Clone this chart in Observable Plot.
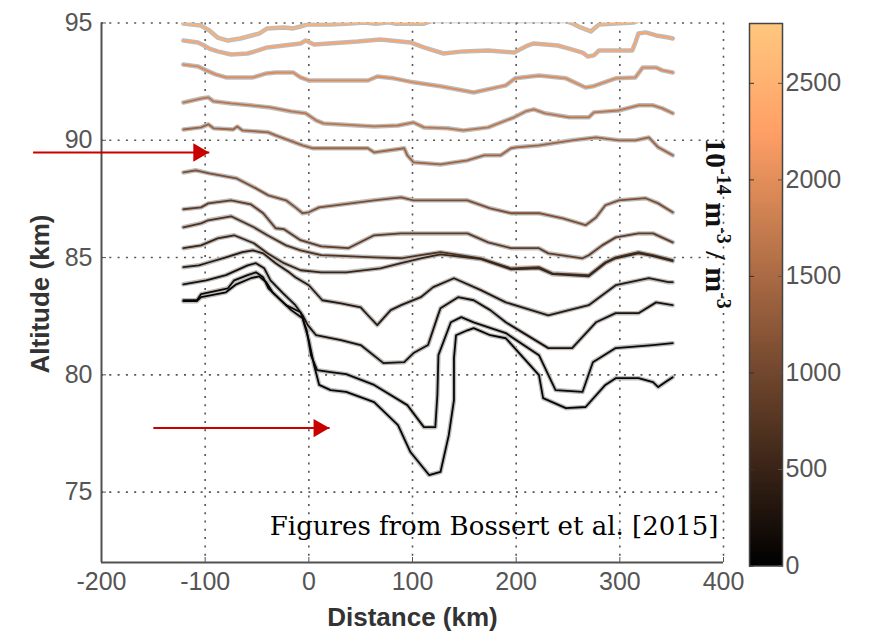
<!DOCTYPE html>
<html><head><meta charset="utf-8">
<script src="https://cdn.jsdelivr.net/npm/d3@7"></script>
<script src="https://cdn.jsdelivr.net/npm/@observablehq/plot@0.6"></script>
<style>
html,body{margin:0;padding:0;background:#fff;}
#wrap{position:relative;width:869px;height:636px;overflow:hidden;background:#fff;}
#wrap svg{position:absolute;}
</style></head><body><div id="wrap"></div>
<script>
// ---------- data ----------
const xTicks = [-200, -100, 0, 100, 200, 300, 400];
const yTicks = [75, 80, 85, 90, 95];
const colorTicks = [0, 500, 1000, 1500, 2000, 2500];
const colorMax = 2810;
const contourLevels = [2500, 2300, 1950, 1650, 1400, 1100, 850, 700, 520, 350, 230, 120, 60];

const contour1 = [[-121,94.98],[-104,94.89],[-96,94.68],[-88,94.38],[-78,94.25],[-66,94.34],[-48,94.55],[-40,94.77],[-24,94.81],[-15,94.77],[-8,94.85],[-1,94.94],[21,94.94],[40,94.98],[53,95.02],[65,94.97],[77,95.03],[84,94.97],[111,94.97],[118,95.08],[248,95.08],[255,94.97],[262,94.81],[272,94.64],[280,94.94],[313,95.02],[325,95.2],[351,95.2]];
const contour2 = [[-121,94.25],[-107,94.17],[-101,94.04],[-96,93.91],[-88,93.79],[-75,93.66],[-59,93.70],[-49,93.83],[-40,93.96],[-24,94.04],[-8,94.13],[-3,94.25],[5,94.08],[47,94.21],[69,94.30],[98,94.17],[111,93.96],[130,93.70],[149,93.79],[173,93.83],[198,93.74],[211,94.04],[217,94.13],[240,94.04],[251,93.91],[264,93.74],[269,93.57],[275,93.62],[280,93.83],[312,93.83],[315,94.17],[318,94.55],[325,94.60],[335,94.47],[347,94.38],[351,94.34]];
const contour3 = [[-121,93.23],[-107,93.15],[-99,92.98],[-90,92.81],[-80,92.68],[-54,92.68],[-41,92.85],[-32,92.89],[-15,92.89],[-8,92.68],[0,92.55],[57,92.55],[66,92.72],[82,92.64],[101,92.47],[127,92.30],[159,92.04],[190,92.34],[199,92.64],[222,92.76],[248,92.64],[267,92.25],[274,92.30],[296,92.64],[315,92.68],[322,93.10],[335,93.10],[341,92.98],[351,92.89]];
const contour4 = [[-121,91.61],[-104,91.78],[-97,91.83],[-92,91.66],[-75,91.57],[-56,91.49],[-37,91.40],[-17,91.23],[-3,91.15],[7,90.85],[14,90.72],[63,90.59],[86,90.63],[101,90.76],[111,90.55],[134,90.51],[149,90.42],[173,90.55],[198,90.98],[209,91.23],[217,91.32],[228,91.15],[251,90.98],[270,90.98],[275,91.19],[299,91.27],[318,91.49],[332,91.49],[341,91.36],[351,91.15]];
const contour5 = [[-121,90.46],[-104,90.55],[-97,90.68],[-92,90.51],[-73,90.46],[-69,90.59],[-64,90.42],[-39,90.34],[-32,90.21],[-19,90.00],[-6,89.78],[4,89.66],[57,89.66],[63,89.48],[92,89.66],[95,89.36],[101,89.06],[127,88.97],[153,89.14],[169,89.36],[185,89.36],[195,89.66],[200,89.70],[222,89.78],[254,90.00],[277,90.12],[299,90.00],[315,90.00],[328,90.12],[337,89.70],[351,89.36]];
const contour6 = [[-121,88.63],[-109,88.72],[-96,88.59],[-70,88.38],[-51,87.95],[-39,87.65],[-22,87.44],[-13,87.14],[-6,86.89],[0,86.93],[10,87.14],[33,87.27],[63,87.44],[89,87.57],[101,87.44],[153,87.44],[175,87.10],[195,86.89],[222,86.89],[245,86.67],[267,86.38],[277,86.71],[286,87.23],[299,87.44],[325,87.53],[337,87.31],[351,86.93]];
const contour7 = [[-121,87.06],[-104,87.14],[-97,87.31],[-75,87.44],[-56,87.27],[-44,86.89],[-32,86.25],[-24,86.21],[-8,85.74],[12,85.48],[38,85.40],[63,85.95],[89,86.03],[153,86.03],[173,85.65],[195,85.40],[222,85.40],[231,85.18],[264,84.97],[270,85.10],[283,85.52],[296,85.86],[318,86.03],[332,86.03],[351,85.65]];
const contour8 = [[-121,86.29],[-104,86.46],[-97,86.59],[-75,86.76],[-53,86.29],[-40,85.95],[-22,85.52],[-8,85.31],[12,85.10],[36,85.06],[63,85.01],[89,84.97],[108,85.10],[127,85.23],[166,84.97],[195,84.54],[222,84.59],[235,84.33],[270,84.25],[286,84.80],[296,85.01],[318,85.23],[332,85.10],[351,84.89]];
const contour9 = [[-121,85.40],[-104,85.52],[-88,85.82],[-72,85.95],[-53,85.61],[-40,85.18],[-24,84.76],[-8,84.46],[12,84.37],[36,84.37],[69,84.54],[89,84.76],[108,84.97],[127,85.14],[166,84.93],[195,84.50],[222,84.54],[235,84.29],[270,84.20],[286,84.76],[296,84.97],[318,85.18],[332,85.06],[351,84.85]];
const contour10 = [[-121,84.59],[-106,84.67],[-96,84.80],[-80,85.01],[-64,85.23],[-54,85.31],[-44,85.18],[-32,84.76],[-19,84.37],[-13,84.16],[0,83.82],[13,83.18],[31,83.05],[50,82.88],[57,82.54],[66,82.12],[79,82.76],[89,82.97],[108,83.31],[120,83.74],[140,84.12],[166,83.61],[190,83.09],[231,82.54],[270,82.97],[296,83.82],[328,84.12],[347,83.95],[351,83.95]];
const contour11 = [[-121,83.86],[-99,84.03],[-80,84.25],[-59,84.67],[-51,84.76],[-43,84.54],[-37,84.03],[-25,83.48],[-13,82.97],[-6,82.54],[-1,82.12],[7,81.69],[31,81.48],[50,81.27],[72,80.50],[92,80.54],[101,80.93],[115,81.27],[124,82.46],[127,82.84],[144,83.31],[159,83.18],[175,82.76],[190,82.24],[231,81.14],[254,81.14],[277,82.24],[296,82.63],[318,82.63],[335,83.09],[351,82.97]];
const contour12 = [[-121,83.18],[-108,83.18],[-104,83.44],[-78,83.69],[-72,84.03],[-59,84.25],[-51,84.37],[-44,84.16],[-39,83.69],[-22,82.97],[-8,82.67],[-2,81.90],[2,80.84],[8,80.20],[21,80.12],[36,80.03],[63,79.57],[95,78.71],[111,77.77],[122,77.77],[124,79.14],[125,80.84],[137,82.24],[147,82.46],[159,82.24],[190,81.78],[222,80.84],[238,79.35],[264,79.27],[274,80.54],[296,81.14],[332,81.27],[351,81.35]];
const contour13 = [[-121,83.14],[-108,83.14],[-104,83.31],[-80,83.52],[-70,83.86],[-56,84.12],[-48,84.20],[-41,83.95],[-35,83.52],[-17,82.76],[-6,82.41],[0,81.48],[5,80.42],[10,79.57],[21,79.35],[36,79.27],[63,78.84],[86,77.86],[98,76.71],[116,75.73],[127,75.86],[135,77.43],[140,78.92],[140,80.71],[142,81.69],[153,81.90],[159,81.99],[175,81.69],[190,81.56],[222,79.99],[226,79.01],[248,78.58],[267,78.63],[286,79.57],[296,79.86],[318,79.86],[332,79.69],[337,79.48],[344,79.69],[351,79.90]];

const contours = [contour1, contour2, contour3, contour4, contour5, contour6, contour7, contour8, contour9, contour10, contour11, contour12, contour13];

// annotation arrows (data coordinates: distance km, altitude km)
const arrowStartKm = [-266, -150];
const arrowTipKm = [-96, 20];
const arrowAltKm = [89.48, 77.73];

const captionText = "Figures from Bossert et al. [2015]";
const xLabel = "Distance (km)";
const yLabel = "Altitude (km)";

// ---------- build ----------
const copper = t => {
  const r = Math.min(1, 1.25 * t), g = 0.7812 * t, b = 0.4975 * t;
  return `rgb(${Math.round(r*255)},${Math.round(g*255)},${Math.round(b*255)})`;
};
const colorScale = {type: "linear", domain: [0, colorMax], interpolate: copper};
const plain = d => String(d);

const rows = contours.flatMap((pts, i) => pts.map(([dist, alt]) => ({id: i, level: contourLevels[i], dist, alt})));
const arrows = arrowStartKm.map((s, i) => ({x1: s, x2: arrowTipKm[i], y: arrowAltKm[i]}));

const axisColor = "#505050";
const labelColor = "#555";
const sans = "'Liberation Sans', Arial, Helvetica, sans-serif";

const chart = Plot.plot({
  width: 869, height: 636,
  marginLeft: 101, marginRight: 146, marginTop: 22.5, marginBottom: 74,
  x: {domain: [-200, 400]},
  y: {domain: [72, 95]},
  color: colorScale,
  style: {fontFamily: sans, background: "transparent", overflow: "visible"},
  marks: [
    Plot.gridX(xTicks.filter(d => d > -200), {stroke: "#555", strokeOpacity: 1, strokeWidth: 1.6, strokeDasharray: "2,6.3"}),
    Plot.gridY(yTicks, {stroke: "#555", strokeOpacity: 1, strokeWidth: 1.6, strokeDasharray: "2,6.3"}),
    Plot.line(rows, {x: "dist", y: "alt", z: "id", stroke: "#bcbcbc", strokeWidth: 4.5, clip: true, strokeLinejoin: "round"}),
    Plot.line(rows, {x: "dist", y: "alt", z: "id", stroke: "level", strokeWidth: 1.8, clip: true, strokeLinejoin: "round"}),
    Plot.ruleX([-200], {stroke: axisColor, strokeWidth: 2}),
    Plot.ruleY([72], {stroke: axisColor, strokeWidth: 2}),
    Plot.axisX(xTicks, {tickSize: -5, tickPadding: 15, fontSize: 25, color: labelColor, label: null, tickFormat: plain}),
    Plot.axisY(yTicks, {tickSize: -5, tickPadding: 14, fontSize: 25, color: labelColor, label: null, tickFormat: plain}),
    Plot.text([xLabel], {frameAnchor: "bottom", dy: 55, lineAnchor: "middle", fontSize: 26, fontWeight: "bold", fill: "#333"}),
    Plot.text([captionText], {frameAnchor: "bottom-right", dx: -5, dy: -36, textAnchor: "end", lineAnchor: "middle", fontSize: 26, fontFamily: "'DejaVu Serif', 'Liberation Serif', serif", fill: "#000"}),
    Plot.link(arrows, {x1: "x1", x2: "x2", y1: "y", y2: "y", stroke: "#c80000", strokeWidth: 2}),
    Plot.dot(arrows, {x: "x2", y: "y", symbol: "triangle", r: 6.8, fill: "#c80000", stroke: null, rotate: 90, dx: -10.7})
  ]
});
chart.style.left = "0px";
chart.style.top = "0px";

// y-axis title, placed explicitly (rotated)
d3.select(chart).append("text")
  .attr("transform", "translate(49,294) rotate(-90)")
  .attr("text-anchor", "middle")
  .attr("font-family", sans)
  .attr("font-weight", "bold")
  .attr("font-size", 26)
  .attr("fill", "#333")
  .text(yLabel);

// colour-bar label (rotated, with superscripts)
const lab = d3.select(chart).append("text")
  .attr("transform", "translate(706,138) rotate(90)")
  .attr("text-anchor", "start")
  .attr("font-family", "'Liberation Serif', 'DejaVu Serif', serif")
  .attr("font-weight", "bold")
  .attr("font-size", 30)
  .attr("fill", "#111");
lab.append("tspan").text("10");
lab.append("tspan").attr("font-size", 20).attr("dy", -11).text("-14");
lab.append("tspan").attr("dy", 11).text(" m");
lab.append("tspan").attr("font-size", 20).attr("dy", -11).text("-3");
lab.append("tspan").attr("dy", 11).text(" / m");
lab.append("tspan").attr("font-size", 20).attr("dy", -11).text("-3");

// colour bar
const bandStep = 10;
const bands = d3.range(0, colorMax, bandStep);
const bar = Plot.plot({
  width: 120, height: 575,
  marginLeft: 2, marginRight: 85, marginTop: 12, marginBottom: 20.5,
  x: {domain: [0, 1], axis: null},
  y: {domain: [0, colorMax], axis: null},
  color: colorScale,
  style: {fontFamily: sans, background: "transparent"},
  marks: [
    Plot.rect(bands, {x1: 0, x2: 1, y1: d => d, y2: d => Math.min(colorMax, d + bandStep), fill: d => d + bandStep / 2, shapeRendering: "crispEdges"}),
    Plot.frame({stroke: "#444", strokeWidth: 1.5}),
    Plot.axisY(colorTicks, {anchor: "right", tickSize: -5, tickPadding: 8, fontSize: 25, color: labelColor, label: null, tickFormat: plain}),
    Plot.axisY(colorTicks, {anchor: "left", tickSize: -5, tickFormat: () => "", color: "#333", label: null})
  ]
});
bar.style.left = "747px";
bar.style.top = "10.5px";

const wrap = document.getElementById("wrap");
wrap.appendChild(chart);
wrap.appendChild(bar);
</script>
</body></html>
